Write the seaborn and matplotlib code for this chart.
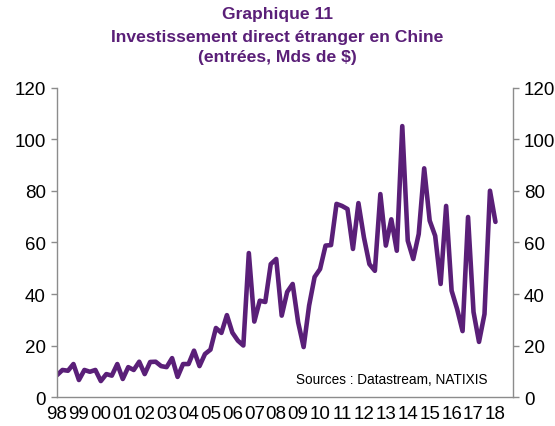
import numpy as np
import pandas as pd
import matplotlib
matplotlib.use("Agg")
import matplotlib.pyplot as plt
import seaborn as sns

# Quarterly FDI inflows into China, bn USD, 1998 Q1 -> 2018 Q1
fdi = [8.5, 10.5, 10.2, 12.8, 6.6, 10.5, 9.8, 10.5, 6.2, 8.9,
       8.3, 12.8, 7.0, 11.6, 10.5, 13.7, 8.9, 13.6, 13.7, 12.0,
       11.6, 15.1, 7.8, 12.8, 12.8, 18.0, 12.0, 16.7, 18.4, 26.8,
       24.9, 31.8, 25.0, 21.9, 20.0, 55.9, 29.3, 37.4, 36.9, 51.6,
       53.6, 31.6, 40.8, 43.9, 29.0, 19.4, 35.5, 46.6, 49.7, 58.8,
       59.0, 75.0, 74.2, 73.0, 57.5, 75.3, 62.0, 51.6, 49.0, 78.8,
       58.8, 69.0, 56.8, 105.2, 60.7, 53.6, 63.3, 88.8, 68.5, 62.6,
       43.9, 74.2, 41.3, 34.2, 25.6, 69.9, 33.0, 21.4, 32.2, 80.1,
       68.0]
year_labels = ["98", "99", "00", "01", "02", "03", "04", "05", "06", "07",
               "08", "09", "10", "11", "12", "13", "14", "15", "16", "17", "18"]
y_ticks = [0, 20, 40, 60, 80, 100, 120]

df = pd.DataFrame({"q": np.arange(len(fdi)), "fdi": fdi})

purple = "#5a1f78"
grey = "#8c8c8c"

sns.set_style("white")
plt.rcParams["font.family"] = ["Liberation Sans", "DejaVu Sans"]

fig = plt.figure(figsize=(5.55, 4.27), dpi=100)
ax = fig.add_axes([0.1027, 0.0679, 0.8216, 0.7237])

sns.lineplot(data=df, x="q", y="fdi", ax=ax, color=purple, linewidth=3.3)

ax.set_xlim(0, 83.2)
ax.set_ylim(0, 120)
ax.set_xticks(np.arange(0, 4 * len(year_labels), 4))
ax.set_xticklabels(year_labels)
ax.set_yticks(y_ticks)
ax.set_xlabel("")
ax.set_ylabel("")

for side in ["left", "right", "bottom"]:
    ax.spines[side].set_visible(True)
    ax.spines[side].set_color(grey)
    ax.spines[side].set_linewidth(1.0)
ax.spines["top"].set_visible(False)

ax.tick_params(axis="both", which="both", labelsize=13.5, colors=grey,
               labelcolor="black", length=4, width=1.0, direction="out")
ax.tick_params(axis="x", pad=2)
ax.tick_params(axis="y", left=True, right=True, labelleft=True, labelright=True, pad=4)

ax.text(0.945, 0.035, "Sources : Datastream, NATIXIS", transform=ax.transAxes,
        ha="right", va="bottom", fontsize=9.8, color="black")

fig.text(0.5, 0.967, "Graphique 11", ha="center", va="center",
         fontsize=12.6, fontweight="bold", color=purple)
fig.text(0.5, 0.913, "Investissement direct étranger en Chine", ha="center", va="center",
         fontsize=12.6, fontweight="bold", color=purple)
fig.text(0.5, 0.866, "(entrées, Mds de $)", ha="center", va="center",
         fontsize=12.6, fontweight="bold", color=purple)

fig.savefig("out.png", dpi=100)
